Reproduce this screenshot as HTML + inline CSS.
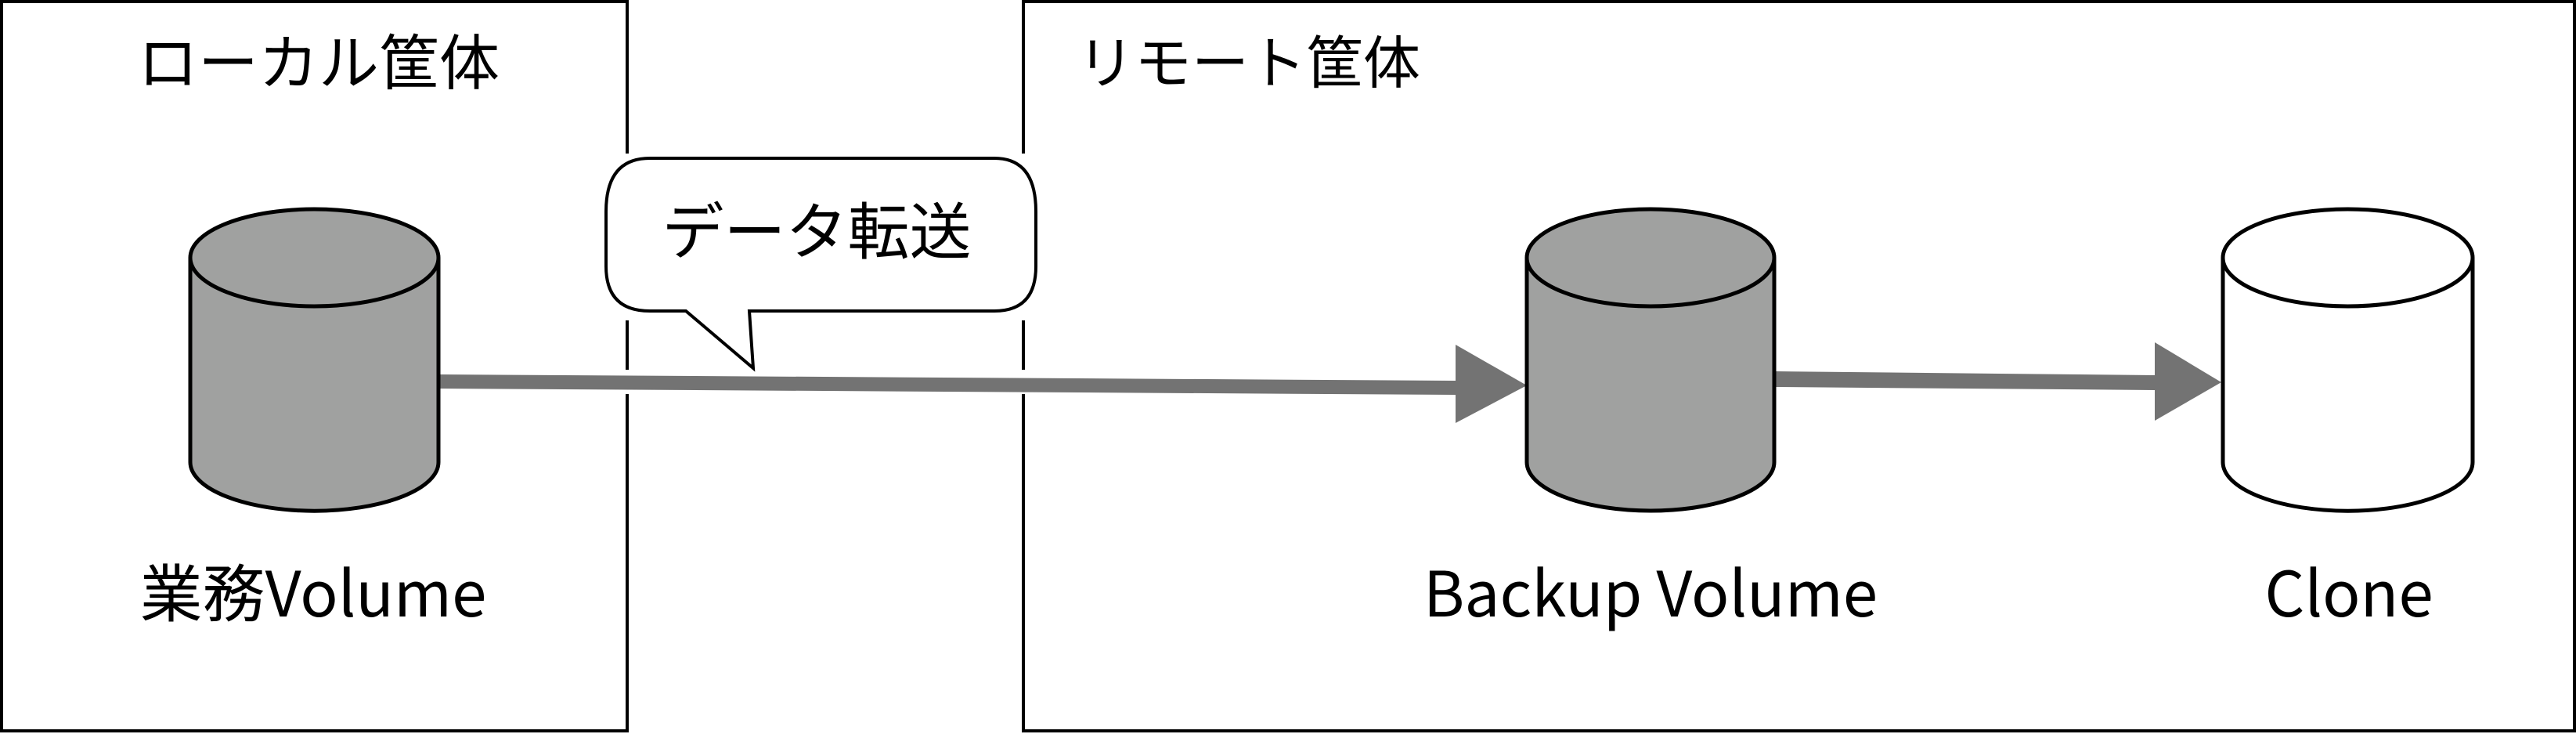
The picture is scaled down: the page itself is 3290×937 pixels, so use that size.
<!DOCTYPE html>
<html><head><meta charset="utf-8"><style>
html,body{margin:0;padding:0;background:#fff;}
svg{display:block;}
text{font-family:"Noto Sans CJK JP","Liberation Sans",sans-serif;fill:#000;}
</style></head><body>
<svg width="3290" height="937" viewBox="0 0 3290 937" xmlns="http://www.w3.org/2000/svg">
<rect x="2" y="2" width="799" height="931" fill="none" stroke="#000" stroke-width="4"/>
<rect x="1307" y="2" width="1981" height="931" fill="none" stroke="#000" stroke-width="4"/>
<rect x="790" y="196" width="24" height="213" fill="#fff"/>
<rect x="790" y="472" width="24" height="31" fill="#fff"/>
<rect x="1296" y="196" width="24" height="213" fill="#fff"/>
<rect x="1296" y="472" width="24" height="31" fill="#fff"/>
<text x="176" y="108" font-size="77">ローカル筐体</text>
<text x="1376" y="106" font-size="73">リモート筐体</text>
<!-- arrows -->
<polygon points="560,478 1859,486 1859,504 560,496" fill="#737373"/>
<polygon points="1859,440 1950,492 1859,540" fill="#737373"/>
<polygon points="2266,474 2752,479 2752,498 2266,494" fill="#737373"/>
<polygon points="2752,437 2837,488 2752,537" fill="#737373"/>
<!-- cylinders -->
<g stroke="#000" stroke-width="5">
<path d="M243,329 L243,590 A158,62 0 0 0 560,590 L560,329" fill="#a0a1a0"/>
<ellipse cx="401.5" cy="329" rx="158.5" ry="62" fill="#a0a1a0"/>
<path d="M1950,329 L1950,590 A158,62 0 0 0 2266,590 L2266,329" fill="#a0a1a0"/>
<ellipse cx="2108" cy="329" rx="158" ry="62" fill="#a0a1a0"/>
<path d="M2839,329 L2839,590 A159,62 0 0 0 3158,590 L3158,329" fill="#fff"/>
<ellipse cx="2998.5" cy="329" rx="159.5" ry="62" fill="#fff"/>
</g>
<!-- callout -->
<path d="M830,202 L1270,202 Q1323,202 1323,270 L1323,340 Q1323,397 1270,397 L957,397 L962,470 L876,397 L830,397 Q774,397 774,340 L774,270 Q774,202 830,202 Z" fill="#fff" stroke="#000" stroke-width="4"/>
<text x="1043" y="324" font-size="79" text-anchor="middle">データ転送</text>
<text x="400" y="787" font-size="80" text-anchor="middle">業務Volume</text>
<text x="2108" y="787" font-size="80" text-anchor="middle">Backup Volume</text>
<text x="3000" y="787" font-size="80" text-anchor="middle">Clone</text>
</svg>
</body></html>
